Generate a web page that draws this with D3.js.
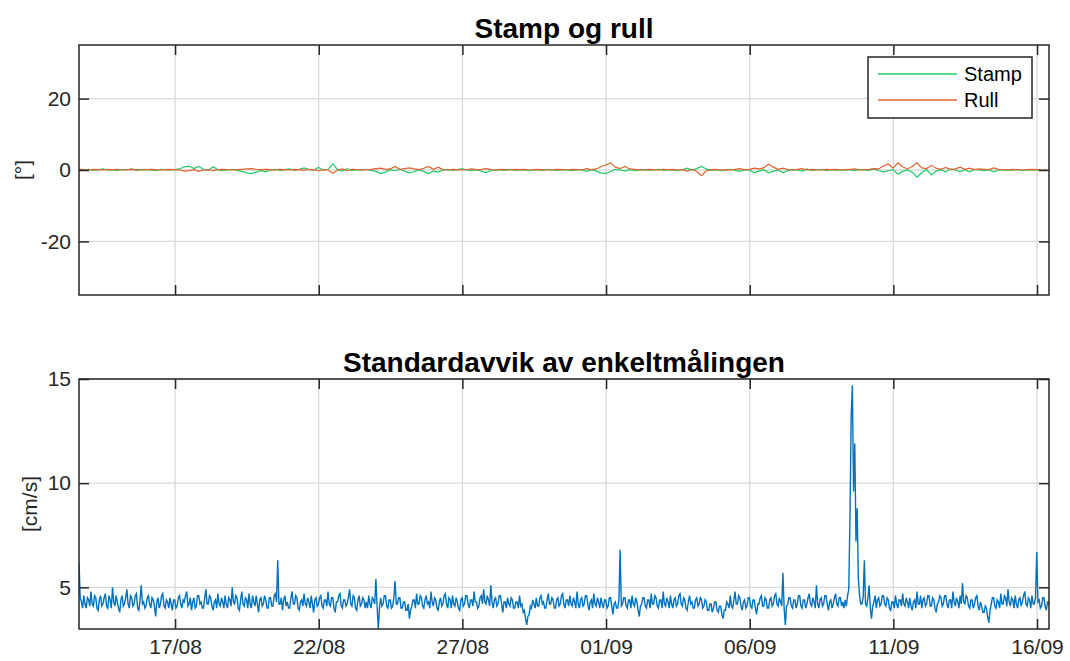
<!DOCTYPE html>
<html>
<head>
<meta charset="utf-8">
<script src="https://cdn.jsdelivr.net/npm/d3@7"></script>
<style>
  body { margin: 0; background: #fff; }
  svg { font-family: "Liberation Sans", Arial, sans-serif; }
</style>
</head>
<body>
<script>
// time axis
var startTime = new Date(Date.UTC(2023, 7, 13, 15, 45));
var endTime = new Date(Date.UTC(2023, 8, 16, 10, 0));
var tickDates = ["2023-08-17", "2023-08-22", "2023-08-27", "2023-09-01", "2023-09-06", "2023-09-11", "2023-09-16"];

// stamp og rull, one value every 4 hours
var tiltStepHours = 4;
var stampValues = [
  0.1, 0.0, 0.2, -0.1, 0.1, 0.3, 0.0, 0.1, -0.2, 0.2, 0.0, 0.3, -0.1, 0.1, 0.2, 0.0, -0.2, 0.2, 0.1, 0.0,
  0.1, 0.3, 0.9, 1.1, 0.4, 1.0, 0.2, -0.1, 0.9, 0.1, -0.2, 0.0, 0.2, -0.1, -0.4, -0.8, -1.0, -0.6, -0.2, -0.5,
  0.0, 0.2, -0.1, 0.1, 0.3, -0.1, 0.2, 0.6, 0.1, 0.0, 0.7, 0.0, 0.2, 1.7, 0.1, -0.3, 0.4, -0.2, 0.1, 0.0,
  0.2, -0.1, -0.4, -1.0, -0.6, 0.1, -0.2, 0.2, -0.3, -0.8, -0.5, 0.0, -0.4, -1.0, -0.3, -0.6, 0.0, 0.2, -0.1, 0.1,
  0.4, 0.0, -0.2, 0.1, -0.3, -0.7, -0.2, 0.1, 0.0, -0.1, 0.2, -0.1, 0.0, 0.1, -0.2, 0.1, 0.0, -0.1, 0.2, 0.0,
  -0.1, 0.1, 0.0, -0.2, 0.1, 0.0, -0.4, 0.1, -0.3, -0.8, -1.0, -0.4, 0.2, 0.0, -0.3, 0.1, -0.2, 0.0, 0.1, -0.1,
  0.0, 0.2, -0.1, 0.1, 0.0, -0.2, 0.1, 0.5, 0.0, 0.4, 1.0, 0.3, -0.1, 0.1, -0.2, 0.0, 0.2, -0.1, -0.4, 0.1,
  0.0, -0.8, -0.3, 0.1, -0.8, -0.4, 0.0, -0.8, -0.2, 0.1, 0.0, -0.3, 0.3, -0.1, 0.0, 0.2, -0.2, 0.1, 0.0, -0.1,
  0.1, 0.0, -0.2, 0.2, 0.0, -0.1, 0.3, -0.2, -0.5, -0.2, 0.1, -1.1, -0.4, 0.0, -0.6, -2.0, -0.7, 0.1, -1.4, -0.3,
  0.1, -0.6, 0.3, 0.0, -0.5, 0.1, -0.5, 0.2, 0.0, -0.2, 0.1, -0.5, 0.0, 0.1, -0.1, 0.0, 0.1, -0.1, 0.0, 0.1,
  0.0, -0.1, 0.0
];
var rullValues = [
  0.2, 0.1, 0.0, 0.2, 0.1, 0.0, 0.2, 0.1, 0.2, 0.0, 0.1, 0.2, 0.1, 0.0, 0.1, 0.2, 0.1, 0.0, 0.1, 0.2,
  0.1, 0.0, -0.3, -0.2, 0.1, -0.4, 0.0, 0.1, -0.2, 0.1, 0.2, 0.1, 0.0, 0.1, 0.2, 0.3, 0.4, 0.2, 0.1, 0.2,
  0.1, 0.0, 0.2, 0.1, 0.0, 0.2, 0.1, -0.1, 0.2, 0.1, -0.2, 0.1, 0.0, -0.9, 0.0, 0.3, -0.2, 0.2, 0.1, 0.0,
  0.1, 0.2, 0.4, 0.5, 0.2, 0.3, 1.0, 0.2, 0.4, 0.6, 0.3, 0.1, 0.5, 1.0, 0.2, 0.8, 0.1, 0.0, 0.2, 0.1,
  0.0, 0.1, 0.3, 0.1, 0.2, 0.4, 0.1, 0.0, 0.2, 0.1, 0.0, 0.2, 0.1, 0.2, 0.0, 0.1, 0.2, 0.1, 0.0, 0.1,
  0.2, 0.1, 0.0, 0.2, 0.1, 0.0, 0.4, 0.1, 0.3, 0.9, 1.4, 2.0, 0.8, 0.4, 1.0, 0.3, 0.2, 0.1, 0.0, 0.2,
  0.1, 0.0, 0.2, 0.1, 0.2, 0.0, 0.1, -0.3, 0.2, -0.4, -1.6, -0.2, 0.1, 0.2, 0.0, 0.1, 0.0, 0.2, 0.4, 0.1,
  0.2, 0.5, 0.3, 0.6, 1.6, 0.8, 0.2, 0.5, 0.1, 0.0, 0.2, 0.4, 0.0, 0.2, 0.1, 0.0, 0.2, 0.1, 0.2, 0.0,
  0.1, 0.2, 0.3, 0.0, 0.1, 0.2, 0.4, 0.3, 1.2, 1.7, 0.5, 2.0, 0.9, 0.3, 1.0, 2.0, 0.6, 0.4, 1.3, 0.5,
  0.2, 0.7, 0.1, 0.3, 0.8, 0.2, 0.5, 0.1, 0.3, 0.2, 0.1, 0.6, 0.2, 0.1, 0.0, 0.2, 0.1, 0.0, 0.1, 0.2,
  0.1, 0.0, 0.1
];

// standardavvik, one value every hour
var stdStepHours = 1;
var stdValues = [
  6.2,4.5, 4.3,4.0, 4.6,4.2, 4.0,4.5, 4.4,4.1, 4.8,4.2, 4.1,4.6, 4.5,4.0, 3.9,4.4, 4.6,4.1, 4.2,4.5, 4.7,4.1, 4.0,4.6, 4.4,4.0, 5.0,4.3, 4.1,4.6, 4.3,4.0, 3.8,4.4, 4.6,4.1, 4.2,4.5,
  4.9,4.2, 4.0,4.6, 4.5,4.1, 4.2,4.6, 4.7,4.0, 3.9,4.4, 5.1,4.2, 4.3,4.0, 4.1,4.5, 4.6,4.2, 4.0,4.5, 4.4,4.1, 3.6,4.3, 4.5,4.0, 4.2,4.6, 4.7,4.1, 4.0,4.4, 4.3,4.0, 4.5,4.2, 3.9,4.4,
  4.4,4.0, 4.1,4.5, 4.6,4.2, 4.0,4.4, 4.3,4.6, 4.8,4.1, 4.2,4.5, 3.9,4.3, 4.5,4.0, 4.1,4.6, 4.6,4.2, 4.3,4.0, 4.0,4.5, 4.9,4.2, 4.2,4.6, 4.5,4.1, 3.9,4.3, 4.4,4.0, 4.7,4.2, 4.1,4.5,
  4.3,4.0, 4.6,4.2, 4.0,4.5, 4.4,4.1, 5.0,4.3, 4.2,4.6, 4.5,4.0, 3.9,4.4, 4.8,4.2, 4.1,4.5, 4.4,4.0, 4.7,4.2, 4.0,4.6, 4.3,4.1, 4.6,4.2, 3.8,4.4, 4.5,4.1, 4.2,4.6, 4.4,4.0, 4.0,4.5,
  4.5,4.1, 4.1,4.6, 4.7,4.3, 6.3,4.2, 4.2,4.5, 3.9,4.4, 4.6,4.1, 4.3,4.0, 4.0,4.5, 4.8,4.2, 4.2,4.6, 4.5,4.0, 3.9,4.3, 4.4,4.1, 4.7,4.2, 4.1,4.5, 4.3,4.0, 4.6,4.2, 3.8,4.4, 4.5,4.1,
  4.2,4.5, 4.6,4.1, 4.0,4.4, 4.4,4.1, 4.8,4.2, 4.1,4.5, 4.5,4.0, 3.8,4.3, 4.3,4.6, 4.7,4.1, 4.0,4.4, 4.4,4.1, 4.2,4.5, 4.9,4.2, 4.1,4.6, 4.5,4.0, 3.9,4.4, 4.6,4.1, 4.2,4.5, 4.4,4.0,
  4.3,4.0, 4.6,4.2, 4.0,4.5, 4.4,4.2, 5.4,4.1, 3.0,4.0, 4.5,4.1, 4.2,4.6, 4.6,4.1, 4.0,4.4, 4.4,4.0, 4.1,4.5, 5.3,4.2, 4.2,4.5, 4.5,4.0, 4.0,4.3, 4.3,3.9, 3.9,4.2, 3.5,3.9, 4.1,4.4,
  4.4,4.0, 4.7,4.2, 4.2,4.6, 4.5,4.1, 4.0,4.4, 4.6,4.2, 4.3,4.0, 4.8,4.3, 4.1,4.5, 4.4,4.0, 3.9,4.3, 4.5,4.1, 4.2,4.6, 4.7,4.2, 4.0,4.5, 4.4,4.0, 4.6,4.2, 4.1,4.5, 4.3,4.0, 3.9,4.4,
  4.5,4.1, 4.2,4.6, 4.6,4.2, 4.0,4.4, 4.4,4.1, 4.8,4.3, 4.3,4.0, 4.1,4.5, 4.6,4.2, 4.9,4.3, 4.2,4.6, 4.4,4.1, 5.1,4.3, 4.0,4.4, 4.5,4.1, 4.2,4.6, 4.6,4.2, 3.8,4.3, 4.3,4.0, 4.5,4.2,
  4.1,4.5, 4.4,4.0, 4.0,4.3, 4.3,4.0, 4.6,4.1, 4.2,3.8, 3.9,3.5, 3.2,3.6, 3.7,4.1, 4.0,4.4, 4.2,4.0, 4.5,4.1, 4.1,4.5, 4.6,4.2, 4.3,4.0, 4.0,4.4, 4.7,4.2, 4.2,4.5, 4.4,4.0, 4.0,4.4,
  4.5,4.1, 4.2,4.6, 4.7,4.2, 4.0,4.4, 4.4,4.1, 4.6,4.2, 4.1,4.5, 4.3,4.0, 4.8,4.2, 4.0,4.4, 4.5,4.1, 4.2,4.6, 4.6,4.2, 3.9,4.3, 4.4,4.0, 4.7,4.2, 4.1,4.5, 4.3,4.0, 4.5,4.2, 4.0,4.4,
  4.4,4.0, 4.1,4.5, 4.5,4.1, 3.7,4.2, 4.3,4.0, 4.0,4.4, 6.8,4.1, 4.2,4.5, 4.5,4.1, 4.0,4.4, 4.4,4.0, 4.6,4.2, 4.1,4.5, 4.3,3.9, 3.6,4.1, 4.2,4.5, 4.5,4.1, 4.0,4.4, 4.4,4.0, 4.7,4.2,
  4.2,4.6, 4.5,4.1, 4.0,4.4, 4.4,4.0, 4.8,4.2, 4.1,4.5, 4.3,4.0, 4.6,4.2, 4.0,4.4, 4.5,4.1, 4.2,4.6, 4.7,4.2, 4.1,4.5, 4.4,4.0, 3.9,4.3, 4.6,4.2, 4.3,4.0, 4.0,4.4, 4.5,4.1, 4.2,4.5,
  4.4,4.0, 4.1,4.4, 4.3,3.9, 3.9,4.2, 4.2,3.8, 4.0,4.3, 4.3,3.9, 3.8,4.1, 4.1,3.7, 3.5,3.9, 3.9,4.3, 4.2,4.0, 4.6,4.1, 4.0,4.4, 4.8,4.2, 4.2,4.6, 4.5,4.1, 3.9,4.3, 4.4,4.0, 4.1,4.5,
  4.5,4.1, 4.0,4.4, 4.4,4.0, 3.7,4.2, 4.2,4.5, 4.6,4.1, 4.1,4.5, 4.4,4.0, 4.0,4.4, 4.5,4.1, 4.2,4.6, 4.7,4.2, 4.1,4.5, 4.3,4.1, 5.7,4.0, 3.2,4.1, 4.2,4.5, 4.5,4.1, 4.0,4.4, 4.4,4.0,
  4.2,4.6, 4.6,4.1, 4.0,4.4, 4.4,4.0, 4.2,4.5, 4.7,4.2, 4.1,4.5, 4.3,4.0, 5.1,4.2, 4.0,4.4, 4.5,4.1, 4.2,4.6, 4.6,4.2, 3.9,4.3, 4.4,4.0, 4.2,4.5, 4.7,4.2, 4.1,4.5, 4.5,4.1, 4.3,4.0,
  4.4,4.1, 4.6,4.9, 8.3,13.2, 14.7,9.6, 11.9,7.2, 8.8,5.4, 4.6,4.2, 4.2,4.5, 6.3,4.2, 4.1,4.5, 5.1,4.0, 3.5,4.1, 4.3,4.6, 4.0,4.4, 4.5,4.1, 4.2,4.6, 4.6,4.2, 4.1,4.5, 4.4,4.0, 3.9,4.3,
  4.3,4.0, 4.6,4.2, 4.0,4.4, 4.4,4.1, 4.7,4.2, 4.1,4.5, 4.3,4.0, 4.5,4.1, 3.9,4.3, 4.4,4.0, 4.8,4.2, 4.2,4.6, 4.0,4.4, 4.5,4.1, 4.2,4.6, 4.6,4.1, 4.1,4.5, 4.4,4.0, 3.8,4.2, 4.3,4.6,
  4.5,4.1, 4.2,4.6, 4.6,4.2, 4.0,4.4, 4.4,4.0, 4.8,4.3, 4.1,4.5, 4.3,4.0, 4.6,4.2, 5.2,4.3, 4.2,4.6, 4.5,4.1, 4.0,4.4, 4.4,4.0, 4.2,4.5, 4.6,4.1, 3.9,4.3, 4.1,3.8, 3.8,4.1, 4.0,3.6,
  3.3,3.9, 4.2,4.5, 4.5,4.1, 4.0,4.4, 4.3,4.0, 4.7,4.2, 4.2,4.6, 4.5,4.1, 4.9,4.3, 4.1,4.5, 4.4,4.0, 4.6,4.2, 4.0,4.4, 4.5,4.1, 4.3,4.6, 4.8,4.2, 4.1,4.5, 4.4,4.0, 4.6,4.2, 4.2,4.5,
  6.7,4.3, 4.4,4.0, 4.1,4.5, 4.5,4.1, 3.9,4.3, 4.3,4.0
];

var topTicks = [-20, 0, 20];
var bottomTicks = [5, 10, 15];

var W = 1070, H = 661;
var left = 79, right = 1049;
var panels = [
  {top: 45, bottom: 295, domain: [-35, 35], ticks: topTicks, title: "Stamp og rull", ylabel: "[°]", labelX: 23, showX: false},
  {top: 379, bottom: 629, domain: [3, 15], ticks: bottomTicks, title: "Standardavvik av enkeltmålingen", ylabel: "[cm/s]", labelX: 30, showX: true}
];

var svg = d3.select("body").append("svg")
  .attr("width", W)
  .attr("height", H);

var x = d3.scaleUtc()
  .domain([startTime, endTime])
  .range([left, right]);

var tickTimes = tickDates.map(function(d) { return new Date(d + "T00:00:00Z"); });
var fmt = d3.utcFormat("%d/%m");

function timeAt(i, step) {
  return new Date(startTime.getTime() + i * step * 3600 * 1000);
}

panels.forEach(function(p, k) {
  p.y = d3.scaleLinear().domain(p.domain).range([p.bottom, p.top]);

  var g = svg.append("g");

  // grid
  g.selectAll(".vgrid").data(tickTimes).enter().append("line")
    .attr("x1", function(d) { return x(d); })
    .attr("x2", function(d) { return x(d); })
    .attr("y1", p.top).attr("y2", p.bottom)
    .attr("stroke", "#d9d9d9").attr("stroke-width", 1.3);
  g.selectAll(".hgrid").data(p.ticks).enter().append("line")
    .attr("x1", left).attr("x2", right)
    .attr("y1", function(d) { return p.y(d); })
    .attr("y2", function(d) { return p.y(d); })
    .attr("stroke", "#d9d9d9").attr("stroke-width", 1.3);

  // clip
  svg.append("clipPath").attr("id", "clip" + k)
    .append("rect")
    .attr("x", left).attr("y", p.top)
    .attr("width", right - left).attr("height", p.bottom - p.top);
  p.plot = svg.append("g").attr("clip-path", "url(#clip" + k + ")");
});

// lines
var tiltPanel = panels[0], stdPanel = panels[1];

var lineTilt = d3.line()
  .x(function(d, i) { return x(timeAt(i, tiltStepHours)); })
  .y(function(d) { return tiltPanel.y(d); });

tiltPanel.plot.append("path")
  .datum(stampValues)
  .attr("fill", "none")
  .attr("stroke", "#1fcc6a")
  .attr("stroke-width", 1.2)
  .attr("d", lineTilt);

tiltPanel.plot.append("path")
  .datum(rullValues)
  .attr("fill", "none")
  .attr("stroke", "#e0622e")
  .attr("stroke-width", 1.2)
  .attr("d", lineTilt);

var lineStd = d3.line()
  .x(function(d, i) { return x(timeAt(i, stdStepHours)); })
  .y(function(d) { return stdPanel.y(d); });

stdPanel.plot.append("path")
  .datum(stdValues)
  .attr("fill", "none")
  .attr("stroke", "#0072bd")
  .attr("stroke-width", 1.4)
  .attr("d", lineStd);

// axes
panels.forEach(function(p) {
  var axB = svg.append("g")
    .attr("transform", "translate(0," + p.bottom + ")")
    .call(d3.axisBottom(x).tickValues(tickTimes).tickSizeInner(-10).tickSizeOuter(0)
      .tickPadding(p.showX ? 10 : 0)
      .tickFormat(p.showX ? fmt : ""));
  var axT = svg.append("g")
    .attr("transform", "translate(0," + p.top + ")")
    .call(d3.axisTop(x).tickValues(tickTimes).tickSizeInner(-10).tickSizeOuter(0).tickFormat(""));
  var axL = svg.append("g")
    .attr("transform", "translate(" + left + ",0)")
    .call(d3.axisLeft(p.y).tickValues(p.ticks).tickSizeInner(-10).tickSizeOuter(0).tickPadding(8)
      .tickFormat(function(d) { return String(d); }));
  var axR = svg.append("g")
    .attr("transform", "translate(" + right + ",0)")
    .call(d3.axisRight(p.y).tickValues(p.ticks).tickSizeInner(-10).tickSizeOuter(0).tickFormat(""));

  [axB, axT, axL, axR].forEach(function(a) {
    a.select(".domain").remove();
    a.selectAll(".tick line").attr("stroke", "#262626").attr("stroke-width", 1.5);
    a.selectAll(".tick text").attr("fill", "#262626").attr("font-size", "21px")
      .attr("font-family", "'Liberation Sans', Arial, sans-serif");
  });

  svg.append("rect")
    .attr("x", left).attr("y", p.top)
    .attr("width", right - left).attr("height", p.bottom - p.top)
    .attr("fill", "none")
    .attr("stroke", "#262626")
    .attr("stroke-width", 1.5);

  svg.append("text")
    .attr("x", (left + right) / 2)
    .attr("y", p.top - 7)
    .attr("text-anchor", "middle")
    .attr("font-size", "28px")
    .attr("font-weight", "bold")
    .attr("fill", "#000")
    .text(p.title);

  svg.append("text")
    .attr("transform", "translate(" + p.labelX + "," + ((p.top + p.bottom) / 2) + ") rotate(-90)")
    .attr("text-anchor", "middle")
    .attr("dy", "0.35em")
    .attr("font-size", "21px")
    .attr("fill", "#262626")
    .text(p.ylabel);
});

// legend
var legend = svg.append("g");
legend.append("rect")
  .attr("x", 868).attr("y", 57)
  .attr("width", 164).attr("height", 61)
  .attr("fill", "#fff")
  .attr("stroke", "#262626")
  .attr("stroke-width", 1.5);

var legendItems = [{name: "Stamp", color: "#1fcc6a"}, {name: "Rull", color: "#e0622e"}];
legendItems.forEach(function(d, i) {
  var ly = 74 + i * 26;
  legend.append("line")
    .attr("x1", 878).attr("x2", 957)
    .attr("y1", ly).attr("y2", ly)
    .attr("stroke", d.color).attr("stroke-width", 1.5);
  legend.append("text")
    .attr("x", 964).attr("y", ly)
    .attr("dy", "0.35em")
    .attr("font-size", "20px")
    .attr("fill", "#000")
    .text(d.name);
});
</script>
</body>
</html>
